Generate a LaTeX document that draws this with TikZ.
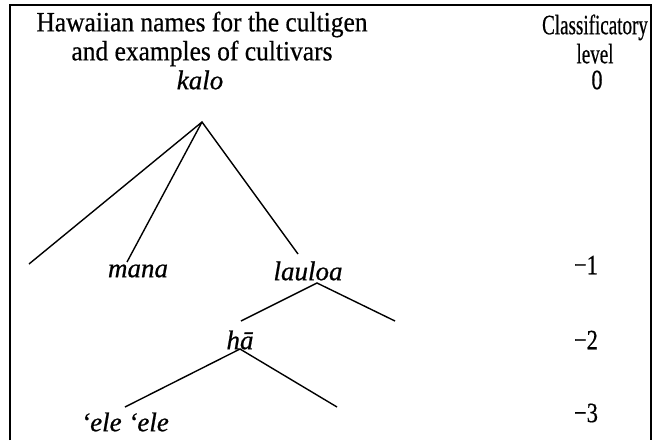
\documentclass[tikz,border=0pt]{standalone}
\usepackage{fontspec}
\setmainfont{Liberation Serif}
\newfontfamily\headserif[FakeStretch=0.91,FakeBold=0.5]{Liberation Serif}
\newfontfamily\narrowserif[FakeStretch=0.68,FakeBold=0.5]{Liberation Serif}
\newfontfamily\levelserif[FakeStretch=0.8,FakeBold=0.5]{Liberation Serif}
\newfontfamily\taxonserif[FakeBold=0.7]{Liberation Serif}
\begin{document}
\begin{tikzpicture}[x=1pt,y=-1pt,
  heading/.style={font=\headserif\fontsize{28}{29}\selectfont, align=center, inner sep=0pt},
  narrowheading/.style={font=\narrowserif\fontsize{28}{29}\selectfont, align=center, inner sep=0pt},
  taxon/.style={font=\taxonserif\fontsize{27}{28}\selectfont\itshape, inner sep=0pt},
  lvl/.style={font=\levelserif\fontsize{28}{28}\selectfont, inner sep=0pt},
  branch/.style={line width=1.4pt}]
\useasboundingbox (0,0) rectangle (658,440);
% open frame
\draw[line width=1.3pt] (10,440) -- (10,5) -- (651,5) -- (651,440);
% headings
\node[heading] (h1) at (202,39) {Hawaiian names for the cultigen\\and examples of cultivars};
\node[narrowheading] (h2) at (595,39) {Classificatory\\level};
% taxon names
\node[taxon] (kalo) at (200,80) {kalo};
\node[taxon] (mana) at (138,271) {mana};
\node[taxon] (lauloa) at (308,271) {lauloa};
\node[taxon] (ha) at (240,340) {hā};
\node[taxon] (ele) at (125,422) {‘ele ‘ele};
% levels
\node[lvl] (l0) at (597,80) {0};
\node[lvl] (l1) at (586,265) {−1};
\node[lvl] (l2) at (586,340) {−2};
\node[lvl] (l3) at (586,413) {−3};
% branch points and free ends
\coordinate (ka) at (202,122);
\coordinate (kl) at (29,264);
\coordinate (ma) at (127,262);
\coordinate (la) at (298,254);
\coordinate (lt) at (317,283);
\coordinate (hl) at (241,321);
\coordinate (lr) at (395,321);
\coordinate (ht) at (240,349);
\coordinate (el) at (125,407);
\coordinate (hr) at (337,407);
\draw[branch] (kl) -- (ka) -- (la);
\draw[branch] (ka) -- (ma);
\draw[branch] (hl) -- (lt) -- (lr);
\draw[branch] (el) -- (ht) -- (hr);
\end{tikzpicture}
\end{document}
